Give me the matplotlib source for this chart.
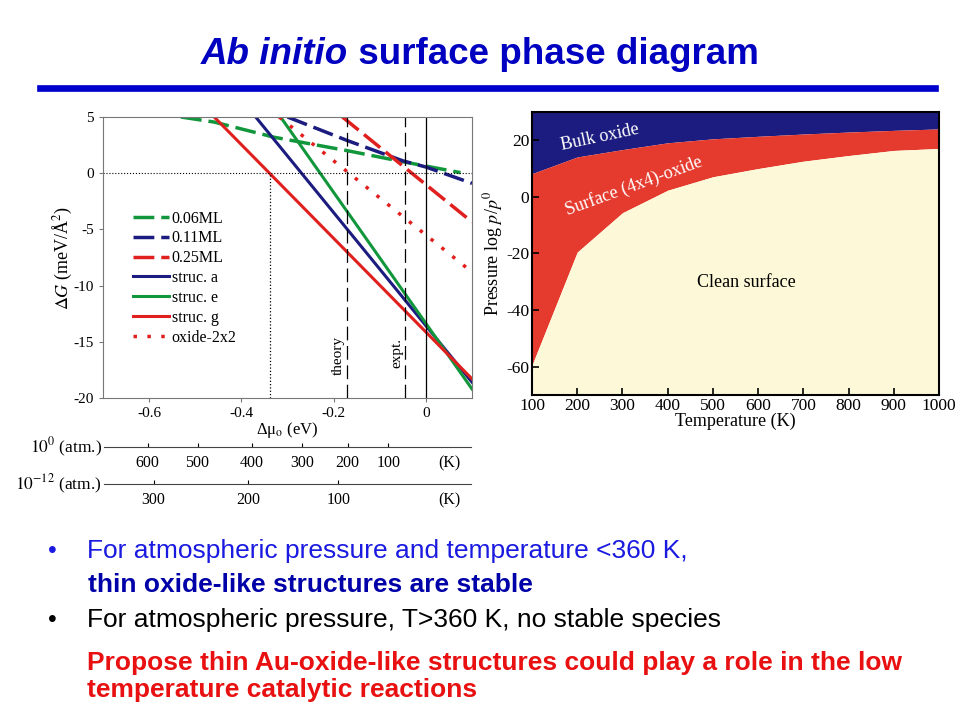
import matplotlib
matplotlib.use("Agg")
import matplotlib.pyplot as plt

plt.rcParams['font.family'] = ['Liberation Serif', 'DejaVu Serif']
plt.rcParams['mathtext.fontset'] = 'stix'
plt.rcParams['axes.unicode_minus'] = False

# left panel: surface free energy vs. oxygen chemical potential
mu_006 = [-0.531, -0.459, -0.329, -0.17, -0.047, 0.075]
dg_006 = [5.0, 4.55, 3.2, 2.0, 1.0, 0.05]
mu_011 = [-0.30, -0.17, -0.05, 0.0, 0.10]
dg_011 = [5.0, 2.9, 1.1, 0.55, -0.9]
mu_025 = [-0.181, 0.10]
dg_025 = [5.0, -4.34]
mu_a = [-0.369, 0.10]
dg_a = [5.0, -18.6]
mu_e = [-0.315, 0.10]
dg_e = [5.0, -19.2]
mu_g = [-0.459, 0.10]
dg_g = [5.0, -18.3]
mu_ox = [-0.318, 0.10]
dg_ox = [5.0, -8.8]
mu_theory = -0.172
mu_expt = -0.045
mu_cross = -0.338

# temperature scales under the mu axis
T_1atm = [600, 500, 400, 300, 200, 100]
mu_1atm = [-0.605, -0.496, -0.377, -0.269, -0.169, -0.080]
T_lowp = [300, 200, 100]
mu_lowp = [-0.592, -0.386, -0.189]
mu_klabel = 0.054

# right panel: phase boundaries
T = [100, 200, 300, 400, 500, 600, 700, 800, 900, 1000]
p_bulk = [8.2, 14.1, 16.7, 19.1, 20.5, 21.4, 22.2, 22.9, 23.5, 24.0]
p_surf = [-59.4, -19.5, -5.6, 2.35, 7.1, 10.0, 12.6, 14.6, 16.4, 17.1]

green = '#12963c'
navy = '#1c1c80'
red = '#e0201e'

fig = plt.figure(figsize=(9.6, 7.2), dpi=100)

# ---- left chart
ax = fig.add_axes([0.1073, 0.4472, 0.3844, 0.3903])
ax.plot(mu_006, dg_006, color=green, lw=2.5, dashes=(6, 2), label='0.06ML')
ax.plot(mu_011, dg_011, color=navy, lw=2.5, dashes=(6, 2), label='0.11ML')
ax.plot(mu_025, dg_025, color=red, lw=2.5, dashes=(6, 2), label='0.25ML')
ax.plot(mu_a, dg_a, color=navy, lw=2.2, label='struc. a')
ax.plot(mu_e, dg_e, color=green, lw=2.2, label='struc. e')
ax.plot(mu_g, dg_g, color=red, lw=2.2, label='struc. g')
ax.plot(mu_ox, dg_ox, color=red, lw=2.5, dashes=(1, 3), label='oxide-2x2')
ax.axhline(0, color='k', lw=0.8, ls=':')
ax.plot([mu_cross, mu_cross], [-20, 0], color='k', lw=0.9, ls=':')
ax.axvline(mu_theory, color='k', lw=0.9, dashes=(11, 4.5))
ax.axvline(mu_expt, color='k', lw=0.9, dashes=(11, 4.5))
ax.axvline(0, color='k', lw=0.9)
ax.text(mu_theory - 0.018, -16.2, 'theory', rotation=90, ha='center', va='center', fontsize=11)
ax.text(mu_expt - 0.018, -16.0, 'expt.', rotation=90, ha='center', va='center', fontsize=11)
ax.set_xlim(-0.7, 0.1)
ax.set_ylim(-20, 5)
ax.set_xticks([-0.6, -0.4, -0.2, 0])
ax.set_xticklabels(['-0.6', '-0.4', '-0.2', '0'])
ax.set_yticks([5, 0, -5, -10, -15, -20])
ax.tick_params(labelsize=11, length=3, color='#777777')
for s in ax.spines.values():
    s.set_color('#777777')
ax.set_ylabel(r'$\Delta G$ (meV/Å$^2$)', fontsize=13, labelpad=0)
ax.set_xlabel('Δμ$_\\mathrm{o}$ (eV)', fontsize=12, labelpad=0)
ax.legend(loc='upper left', bbox_to_anchor=(0.065, 0.69), frameon=False, fontsize=11.5,
          handlelength=2.2, labelspacing=0.24, handletextpad=0.2, borderaxespad=0)

# temperature scales
for yb, temps, mus, lbl in [(0.3792, T_1atm, mu_1atm, r'$10^0$ (atm.)'),
                            (0.3278, T_lowp, mu_lowp, r'$10^{-12}$ (atm.)')]:
    sx = fig.add_axes([0.1083, yb, 0.3823, 0.0001])
    sx.set_xlim(-0.7, 0.1)
    sx.set_ylim(0, 1)
    for k in ['top', 'left', 'right']:
        sx.spines[k].set_visible(False)
    sx.spines['bottom'].set_color('#444444')
    sx.set_yticks([])
    sx.set_xticks(mus + [mu_klabel])
    sx.set_xticklabels([str(t) for t in temps] + ['(K)'])
    sx.tick_params(axis='x', direction='in', length=3, labelsize=11.5, pad=6)
    sx.xaxis.get_major_ticks()[-1].tick1line.set_visible(False)
    fig.text(0.106, yb, lbl, ha='right', va='center', fontsize=12.5)

# ---- right chart
ax2 = fig.add_axes([0.5542, 0.4514, 0.4240, 0.3931])
ax2.fill_between(T, p_bulk, 30, color=navy, lw=0)
ax2.fill_between(T, p_surf, p_bulk, color='#e53a2e', lw=0)
ax2.fill_between(T, -70, p_surf, color='#fdf9d8', lw=0)
ax2.set_xlim(100, 1000)
ax2.set_ylim(-70, 30)
ax2.set_xticks(T)
ax2.set_yticks([20, 0, -20, -40, -60])
ax2.tick_params(direction='in', length=5, labelsize=12.5, width=1.2, pad=2)
for s in ax2.spines.values():
    s.set_linewidth(1.5)
ax2.set_xlabel('Temperature (K)', fontsize=13, labelpad=-1)
ax2.set_ylabel(r'Pressure log $p$/$p^0$', fontsize=13, labelpad=1)
ax2.text(250, 21.2, 'Bulk oxide', color='white', rotation=12, ha='center', va='center', fontsize=13)
ax2.text(326, 3.85, 'Surface (4x4)-oxide', color='white', rotation=20, ha='center', va='center',
         fontsize=13)
ax2.text(573, -30.4, 'Clean surface', color='black', ha='center', va='center', fontsize=13)

# ---- slide title and bullets
sans = ['Liberation Sans', 'DejaVu Sans']
t1 = fig.text(0, 1 - 55 / 720, 'Ab initio', family=sans, fontsize=26.5, weight='bold',
              style='italic', color='#0000c0', va='center')
t2 = fig.text(0, 1 - 55 / 720, ' surface phase diagram', family=sans, fontsize=26.5,
              weight='bold', color='#0000c0', va='center')
fig.canvas.draw()
r = fig.canvas.get_renderer()
w1 = t1.get_window_extent(r).width
w2 = t2.get_window_extent(r).width
x0 = 480 - (w1 + w2) / 2
t1.set_x(x0 / 960)
t2.set_x((x0 + w1) / 960)
fig.add_artist(plt.Line2D([40 / 960, 935 / 960], [1 - 88 / 720] * 2, color='#0000cc', lw=4.8))


def line(x, ybase, s, **kw):
    fig.text(x / 960, 1 - ybase / 720, s, family=sans, va='baseline', **kw)


line(48, 558, '•', fontsize=18, color='#1a1ae0')
line(87, 558, 'For atmospheric pressure and temperature <360 K,', fontsize=19, color='#1a1ae0')
line(88, 592, 'thin oxide-like structures are stable', fontsize=19, weight='bold', color='#0000a8')
line(48, 627, '•', fontsize=18, color='black')
line(87, 627, 'For atmospheric pressure, T>360 K, no stable species', fontsize=19, color='black')
line(87, 670, 'Propose thin Au-oxide-like structures could play a role in the low', fontsize=19,
     weight='bold', color='#e81010')
line(87, 697, 'temperature catalytic reactions', fontsize=19, weight='bold', color='#e81010')

fig.savefig('out.png', dpi=100)
